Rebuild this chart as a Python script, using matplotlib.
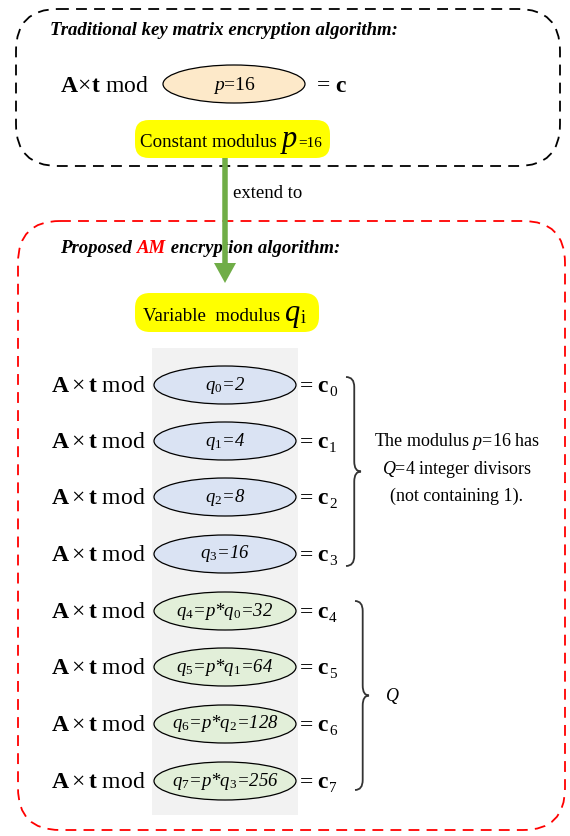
import matplotlib
matplotlib.use("Agg")
import matplotlib.pyplot as plt
from matplotlib.patches import FancyBboxPatch, Ellipse, Rectangle, PathPatch, FancyArrow
from matplotlib.path import Path

plt.rcParams['font.family'] = ['Liberation Serif', 'DejaVu Serif']
plt.rcParams['mathtext.fontset'] = 'custom'
plt.rcParams['mathtext.rm'] = 'Liberation Serif'
plt.rcParams['mathtext.it'] = 'Liberation Serif:italic'
plt.rcParams['mathtext.bf'] = 'Liberation Serif:bold'

# content of the diagram
top_title = "Traditional key matrix encryption algorithm:"
top_modulus = r"$\mathit{p}$=16"
divisor_labels = [r"$\mathit{q_0}$=2", r"$\mathit{q_1}$=4", r"$\mathit{q_2}$=8", r"$\mathit{q_3}$=16"]
multiple_labels = [r"$\mathit{q_4}$=$\mathit{p}$*$\mathit{q_0}$=32",
                   r"$\mathit{q_5}$=$\mathit{p}$*$\mathit{q_1}$=64",
                   r"$\mathit{q_6}$=$\mathit{p}$*$\mathit{q_2}$=128",
                   r"$\mathit{q_7}$=$\mathit{p}$*$\mathit{q_3}$=256"]
row_y = [385, 441, 497, 554, 611, 667, 724, 781]

fig = plt.figure(figsize=(5.7, 8.36), dpi=100)
ax = fig.add_axes([0, 0, 1, 1])
ax.set_xlim(0, 570)
ax.set_ylim(836, 0)
ax.axis('off')
renderer = fig.canvas.get_renderer()


def seq(x, y, pieces):
    # put text pieces one after another on a common baseline
    for s, kw in pieces:
        dy = kw.pop('dy', 0)
        gap = kw.pop('gap', 0)
        t = ax.text(x, y + dy, s, va='baseline', **kw)
        x += t.get_window_extent(renderer).width + gap
    return x


# dashed outer boxes
ax.add_patch(FancyBboxPatch((16, 9), 544, 157, boxstyle="round,pad=0,rounding_size=42",
                            fill=False, ec='black', lw=1.3, ls=(0, (6, 4))))
ax.add_patch(FancyBboxPatch((18, 221), 547, 609, boxstyle="round,pad=0,rounding_size=42",
                            fill=False, ec='#ff0000', lw=1.3, ls=(0, (6, 4))))

# top section
ax.text(50, 35, top_title, fontsize=13.5, fontweight='bold', style='italic', va='baseline')
ax.text(60, 92, r"$\mathbf{A}\!\times\!\mathbf{t}$ mod", fontsize=17, va='baseline')
ax.add_patch(Ellipse((234, 84), 142, 38, fc='#fde9c9', ec='black', lw=0.9))
ax.text(234, 85, top_modulus, fontsize=14, ha='center', va='center')
ax.text(316, 92, r"= $\mathbf{c}$", fontsize=17, va='baseline')

ax.add_patch(FancyBboxPatch((135, 120), 195, 38, boxstyle="round,pad=0,rounding_size=14",
                            fc='#ffff00', ec='none'))
seq(140, 147, [("Constant modulus ", dict(fontsize=13.6)),
               ("p", dict(fontsize=22, style='italic', gap=1)),
               ("=16", dict(fontsize=11))])

# arrow
ax.add_patch(FancyArrow(225, 158, 0, 125, width=5.5, head_width=22, head_length=20,
                        length_includes_head=True, fc='#70ad47', ec='none', zorder=5))
ax.text(233, 198, "extend to", fontsize=13.5, va='baseline')

# proposed section
seq(60, 253, [("Proposed ", dict(fontsize=13.5, fontweight='bold', style='italic')),
              ("AM", dict(fontsize=13.5, fontweight='bold', style='italic', color='#ff0000')),
              (" encryption algorithm:", dict(fontsize=13.5, fontweight='bold', style='italic'))])

ax.add_patch(FancyBboxPatch((135, 293), 184, 39, boxstyle="round,pad=0,rounding_size=15",
                            fc='#ffff00', ec='none'))
seq(143, 321, [("Variable  modulus ", dict(fontsize=13.6)),
               ("q", dict(fontsize=22, style='italic', gap=1)),
               ("i", dict(fontsize=13, dy=2))])

ax.add_patch(Rectangle((152, 348), 146, 467, fc='#f2f2f2', ec='none'))

labels = divisor_labels + multiple_labels
for i, (y, lab) in enumerate(zip(row_y, labels)):
    fc = '#dae3f3' if i < 4 else '#e2efd9'
    ax.text(146, y + 7, r"$\mathbf{A}\times\mathbf{t}$ mod", fontsize=17, ha='right', va='baseline')
    ax.add_patch(Ellipse((225, y), 142, 38, fc=fc, ec='black', lw=0.9))
    ax.text(225, y, lab, fontsize=13.5, ha='center', va='center', style='italic')
    seq(300, y + 7, [("=", dict(fontsize=17, gap=4)),
                     ("c", dict(fontsize=17, fontweight='bold', gap=1.5)),
                     (str(i), dict(fontsize=11, dy=4))])


def brace(x0, y0, y1, w):
    ym = (y0 + y1) / 2
    xm = x0 + w * 0.55
    r = 10
    verts = [(x0, y0), (xm, y0), (xm, y0 + r),
             (xm, ym - r), (xm, ym), (x0 + w, ym),
             (xm, ym), (xm, ym + r),
             (xm, y1 - r), (xm, y1), (x0, y1)]
    codes = [Path.MOVETO, Path.CURVE3, Path.CURVE3,
             Path.LINETO, Path.CURVE3, Path.CURVE3,
             Path.CURVE3, Path.CURVE3,
             Path.LINETO, Path.CURVE3, Path.CURVE3]
    ax.add_patch(PathPatch(Path(verts, codes), fill=False, ec='#333333', lw=1.3))


brace(346, 377, 566, 15)
brace(355, 601, 790, 14)

ax.text(457, 441, r"The modulus $\mathit{p}$=$\mathit{16}$ has", fontsize=13, ha='center', va='center')
ax.text(457, 469, r"$\mathit{Q}$=$\mathit{4}$ integer divisors", fontsize=13, ha='center', va='center')
ax.text(457, 496, "(not containing 1).", fontsize=13, ha='center', va='center')
ax.text(386, 696, "Q", fontsize=13, style='italic', va='center')

fig.savefig("out.png", dpi=100)
